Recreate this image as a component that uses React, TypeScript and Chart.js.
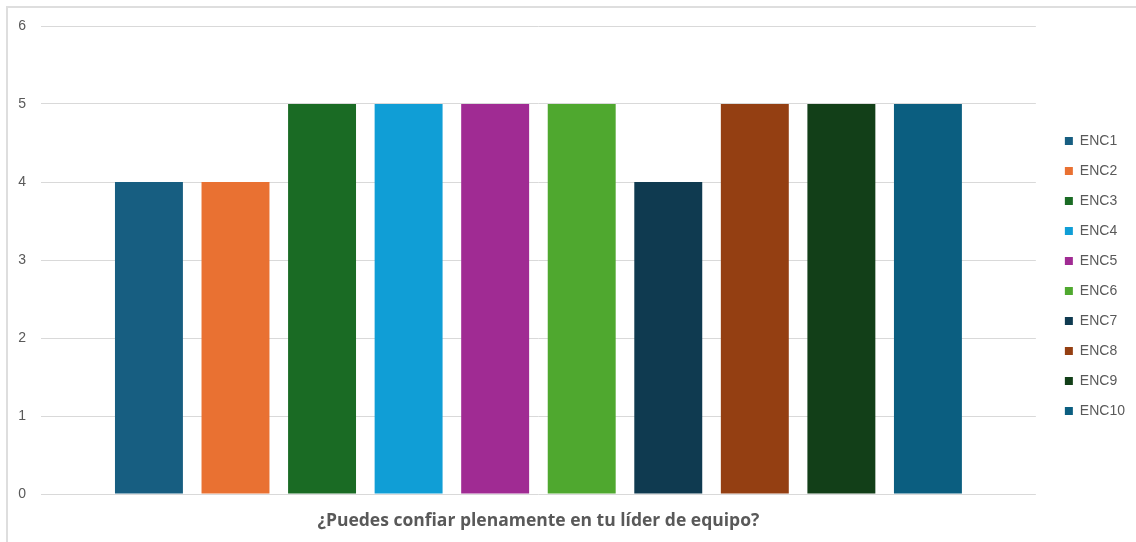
import React, { useEffect, useRef } from "react";
import { Chart, registerables } from "chart.js";

Chart.register(...registerables);

const categories = ["¿Puedes confiar plenamente en tu líder de equipo?"];
const seriesNames = ["ENC1", "ENC2", "ENC3", "ENC4", "ENC5", "ENC6", "ENC7", "ENC8", "ENC9", "ENC10"];
const seriesValues = [4, 4, 5, 5, 5, 5, 4, 5, 5, 5];
const seriesColors = [
  "#175E81",
  "#E97132",
  "#1A6B24",
  "#109ED6",
  "#A02B93",
  "#4FA82F",
  "#0F3A50",
  "#943F12",
  "#123F18",
  "#0B5E80",
];
const yTicks = [0, 1, 2, 3, 4, 5, 6];

export default function App() {
  const canvasRef = useRef<HTMLCanvasElement | null>(null);

  useEffect(() => {
    const canvas = canvasRef.current;
    if (!canvas) return;
    const chart = new Chart(canvas, {
      type: "bar",
      data: {
        labels: categories,
        datasets: seriesNames.map((name, i) => ({
          label: name,
          data: [seriesValues[i]],
          backgroundColor: seriesColors[i],
          borderWidth: 0,
          categoryPercentage: 0.87,
          barPercentage: 0.785,
        })),
      },
      options: {
        responsive: false,
        animation: false,
        devicePixelRatio: 1,
        layout: { padding: { top: 10, right: 1, bottom: 0, left: 0 } },
        plugins: {
          tooltip: { enabled: false },
          title: { display: false },
          legend: {
            display: true,
            position: "right",
            align: "center",
            labels: {
              boxWidth: 8,
              boxHeight: 8,
              padding: 16,
              color: "#595959",
              font: { family: "'Liberation Sans', Arial, sans-serif", size: 14 },
            },
          },
        },
        scales: {
          x: {
            type: "category",
            position: "bottom",
            grid: { display: false },
            border: { display: false },
            ticks: {
              padding: 9,
              color: "#595959",
              font: { family: "'Open Sans', sans-serif", size: 17.5, weight: "bold" },
            },
            afterFit: (s: any) => {
              s.height = 48;
            },
          },
          xTop: {
            type: "category",
            position: "top",
            display: true,
            grid: { display: false },
            border: { display: false },
            ticks: { display: false },
            afterFit: (s: any) => {
              s.height = 16;
            },
          },
          y: {
            type: "linear",
            position: "left",
            min: 0,
            max: 6,
            afterBuildTicks: (s: any) => {
              s.ticks = yTicks.map((v) => ({ value: v }));
            },
            grid: { color: "#d9d9d9", lineWidth: 1, drawTicks: false },
            border: { display: false },
            ticks: {
              padding: 15,
              color: "#595959",
              font: { family: "'Liberation Sans', Arial, sans-serif", size: 14 },
            },
            afterFit: (s: any) => {
              s.width = 41;
            },
          },
          yRight: {
            type: "linear",
            position: "right",
            display: true,
            grid: { display: false },
            border: { display: false },
            ticks: { display: false },
            afterFit: (s: any) => {
              s.width = 13;
            },
          },
        },
      },
    } as any);
    return () => chart.destroy();
  }, []);

  return (
    <div
      style={{
        position: "absolute",
        left: 0,
        top: 0,
        width: 1136,
        height: 542,
        background: "#ffffff",
        overflow: "hidden",
      }}
    >
      <div
        style={{
          position: "absolute",
          left: 6,
          top: 6,
          width: 1200,
          height: 600,
          borderTop: "2px solid #dedede",
          borderLeft: "2px solid #dedede",
          boxSizing: "border-box",
        }}
      />
      <canvas
        ref={canvasRef}
        width={1136}
        height={542}
        style={{ position: "absolute", left: 0, top: 0, width: 1136, height: 542 }}
      />
    </div>
  );
}
